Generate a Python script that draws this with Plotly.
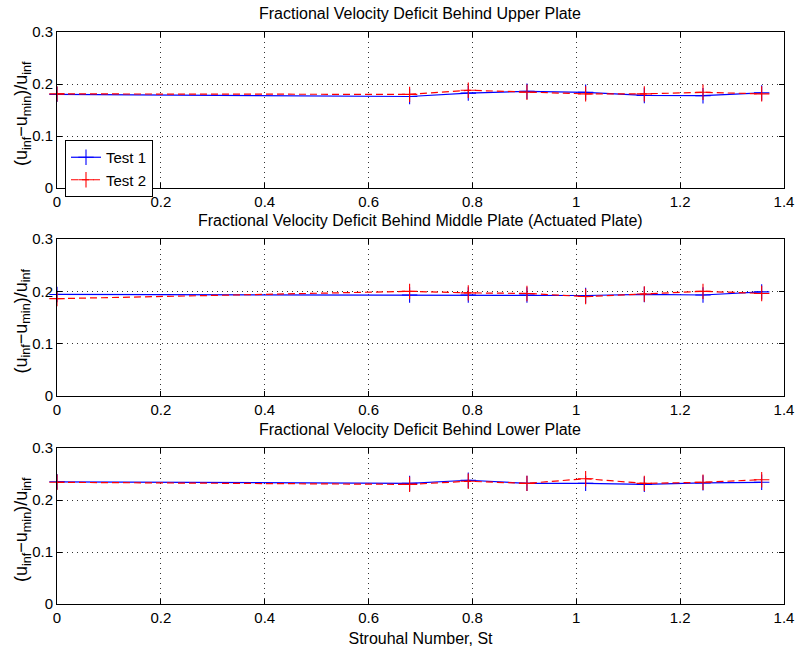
import plotly.graph_objects as go

st = [0.0, 0.679, 0.792, 0.905, 1.018, 1.131, 1.244, 1.357]

upper_test1 = [0.180, 0.176, 0.1825, 0.186, 0.184, 0.178, 0.1775, 0.183]
upper_test2 = [0.181, 0.180, 0.188, 0.184, 0.181, 0.181, 0.184, 0.181]

middle_test1 = [0.194, 0.193, 0.193, 0.193, 0.192, 0.194, 0.193, 0.199]
middle_test2 = [0.186, 0.200, 0.197, 0.196, 0.190, 0.195, 0.200, 0.196]

lower_test1 = [0.235, 0.232, 0.238, 0.232, 0.232, 0.230, 0.233, 0.234]
lower_test2 = [0.234, 0.230, 0.236, 0.232, 0.241, 0.232, 0.234, 0.239]

titles = [
    "Fractional Velocity Deficit Behind Upper Plate",
    "Fractional Velocity Deficit Behind Middle Plate (Actuated Plate)",
    "Fractional Velocity Deficit Behind Lower Plate",
]
x_ticks = [0, 0.2, 0.4, 0.6, 0.8, 1.0, 1.2, 1.4]
x_tick_labels = ["0", "0.2", "0.4", "0.6", "0.8", "1", "1.2", "1.4"]
y_ticks = [0, 0.1, 0.2, 0.3]
y_tick_labels = ["0", "0.1", "0.2", "0.3"]
y_title = "(u<sub>inf</sub>\u2212u<sub>min</sub>)/u<sub>inf</sub>"
x_title = "Strouhal Number, St"

FONT = "Liberation Sans, Arial, Helvetica, sans-serif"
W, H = 799, 649
ML, MR, MT, MB = 57, 15, 32, 45
plot_w = W - ML - MR
plot_h = H - MT - MB

def frac(py):
    return (H - MB - py) / plot_h

domains = [(frac(188), frac(32)), (frac(396), frac(239)), (frac(604), frac(448))]

fig = go.Figure()

data = [(upper_test1, upper_test2), (middle_test1, middle_test2), (lower_test1, lower_test2)]
for i, (t1, t2) in enumerate(data):
    n = "" if i == 0 else str(i + 1)
    fig.add_trace(go.Scatter(
        x=st, y=t1, mode="lines+markers", name="Test 1",
        line=dict(color="rgb(0,0,255)", width=1.2),
        marker=dict(symbol="cross-thin", size=11, line=dict(color="rgb(0,0,255)", width=1.1)),
        xaxis="x" + n, yaxis="y" + n, showlegend=(i == 0), cliponaxis=False,
    ))
    fig.add_trace(go.Scatter(
        x=st, y=t2, mode="lines+markers", name="Test 2",
        line=dict(color="rgb(255,0,0)", width=1.2, dash="7px,4px"),
        marker=dict(symbol="cross-thin", size=11, line=dict(color="rgb(255,0,0)", width=1.1)),
        xaxis="x" + n, yaxis="y" + n, showlegend=(i == 0), cliponaxis=False,
    ))

axis_common = dict(
    showline=True, linecolor="black", linewidth=1, mirror="allticks",
    ticks="inside", ticklen=5, tickcolor="black", tickwidth=1,
    showgrid=True, gridcolor="rgba(0,0,0,0.8)", gridwidth=1, griddash="1px,4px",
    zeroline=False, tickfont=dict(family=FONT, size=15, color="black"),
    automargin=False,
)

layout = dict(
    width=W, height=H, margin=dict(l=ML, r=MR, t=MT, b=MB, autoexpand=False),
    paper_bgcolor="white", plot_bgcolor="white",
    font=dict(family=FONT, size=15, color="black"),
    showlegend=True,
    legend=dict(
        x=(65 - ML) / plot_w, y=frac(140), xanchor="left", yanchor="top",
        bordercolor="black", borderwidth=1, bgcolor="white",
        font=dict(family=FONT, size=15, color="black"),
        tracegroupgap=0, itemwidth=30,
    ),
)
annotations = []
for i in range(3):
    n = "" if i == 0 else str(i + 1)
    xa = dict(axis_common, domain=[0, 1], range=[0, 1.4], tickvals=x_ticks, ticktext=x_tick_labels,
              anchor="y" + n)
    if i == 2:
        xa["title"] = dict(text=x_title, font=dict(family=FONT, size=16), standoff=7)
    ya = dict(axis_common, domain=list(domains[i]), range=[0, 0.3], tickvals=y_ticks,
              ticktext=y_tick_labels, anchor="x" + n)
    layout["xaxis" + n] = xa
    layout["yaxis" + n] = ya
    d0, d1 = domains[i]
    annotations.append(dict(
        text=titles[i], xref="paper", yref="paper", x=(420 - ML) / plot_w,
        y=d1, yshift=8, xanchor="center", yanchor="bottom", showarrow=False,
        font=dict(family=FONT, size=16, color="black"),
    ))
    annotations.append(dict(
        text=y_title, xref="paper", yref="paper", x=(22 - ML) / plot_w,
        y=(d0 + d1) / 2, yshift=-4, xanchor="center", yanchor="middle", textangle=-90,
        showarrow=False, font=dict(family=FONT, size=18, color="black"),
    ))
layout["annotations"] = annotations
fig.update_layout(**layout)

fig.write_html("out.html", config={"displayModeBar": False},
               post_script="document.body.style.margin='0';")
